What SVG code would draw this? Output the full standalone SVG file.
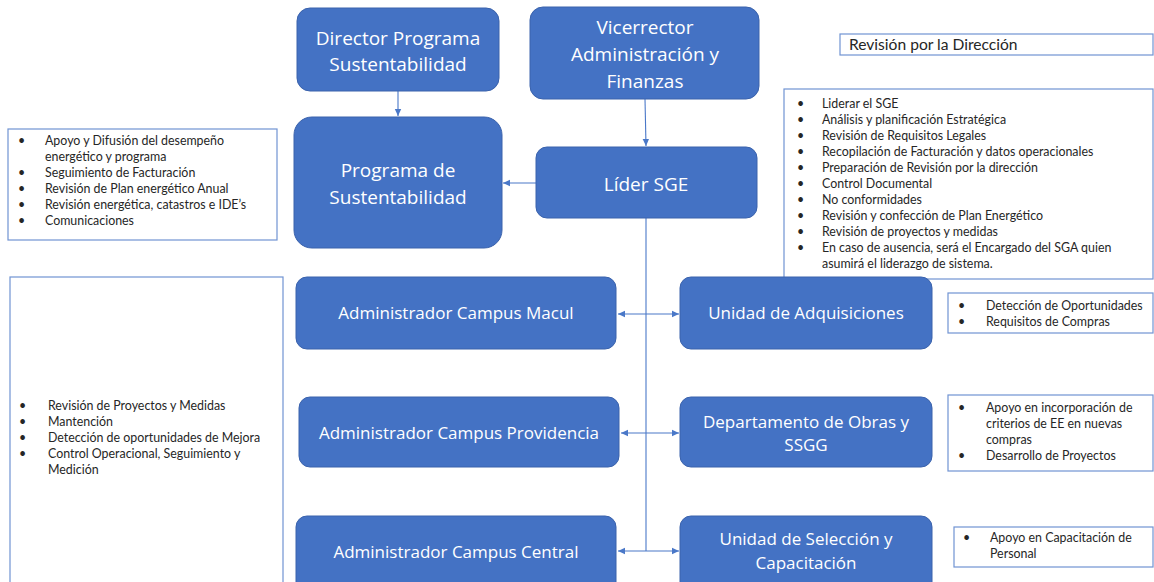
<svg xmlns="http://www.w3.org/2000/svg" width="1154" height="582" viewBox="0 0 1154 582">
<style>
.node{fill:#4472C4;stroke:#3A62AC;stroke-width:1}
.t{fill:#fff;font-family:"Open Sans","Noto Sans",sans-serif;text-anchor:middle}
.big{font-size:19px}
.mid{font-size:17px}
.box{fill:#fff;stroke:#7093D3;stroke-width:1.2}
.s{fill:#262626;font-family:Lato,"Liberation Sans",sans-serif;font-size:12.4px}
.conn{stroke:#4A78C8;stroke-width:1.1;fill:none}
</style>
<defs>
<marker id="ah" markerWidth="8" markerHeight="8" refX="7" refY="4" orient="auto-start-reverse" markerUnits="userSpaceOnUse">
<path d="M0,0.8 L7,4 L0,7.2 Z" fill="#4A78C8"/>
</marker>
</defs>
<rect width="1154" height="582" fill="#fff"/>

<g id="connectors">
<line class="conn" x1="398" y1="91" x2="398" y2="116" marker-end="url(#ah)"/>
<line class="conn" x1="645" y1="99" x2="646" y2="146" marker-end="url(#ah)"/>
<line class="conn" x1="536" y1="183" x2="503" y2="183" marker-end="url(#ah)"/>
<line class="conn" x1="646" y1="218" x2="646" y2="551"/>
<line class="conn" x1="618" y1="314" x2="679" y2="314" marker-start="url(#ah)" marker-end="url(#ah)"/>
<line class="conn" x1="621" y1="433" x2="679" y2="433" marker-start="url(#ah)" marker-end="url(#ah)"/>
<line class="conn" x1="618" y1="551" x2="679" y2="551" marker-start="url(#ah)" marker-end="url(#ah)"/>
</g>

<g id="director">
<rect class="node" x="297" y="8" width="202" height="83" rx="13"/>
<text class="t big" x="398" y="45">Director Programa</text>
<text class="t big" x="398" y="71">Sustentabilidad</text>
</g>

<g id="programa">
<rect class="node" x="294" y="117" width="208" height="131" rx="18"/>
<text class="t big" x="398" y="177">Programa de</text>
<text class="t big" x="398" y="204">Sustentabilidad</text>
</g>

<g id="vicerrector">
<rect class="node" x="530" y="7" width="229" height="92" rx="13"/>
<text class="t big" x="645" y="34">Vicerrector</text>
<text class="t big" x="645" y="61">Administración y</text>
<text class="t big" x="645" y="88">Finanzas</text>
</g>

<g id="lider">
<rect class="node" x="536" y="147" width="221" height="71" rx="11"/>
<text class="t big" x="646" y="191">Líder SGE</text>
</g>

<g id="revision">
<rect class="box" x="840" y="34" width="313" height="21"/>
<text class="s" x="849" y="50" style="font-size:15.6px">Revisión por la Dirección</text>
</g>

<g id="lider-tareas">
<rect class="box" x="784" y="89" width="369" height="190"/>
<g class="s">
<text x="797" y="108">•</text><text x="822" y="108">Liderar el SGE</text>
<text x="797" y="124">•</text><text x="822" y="124">Análisis y planificación Estratégica</text>
<text x="797" y="140">•</text><text x="822" y="140">Revisión de Requisitos Legales</text>
<text x="797" y="156">•</text><text x="822" y="156">Recopilación de Facturación y datos operacionales</text>
<text x="797" y="172">•</text><text x="822" y="172">Preparación de Revisión por la dirección</text>
<text x="797" y="188">•</text><text x="822" y="188">Control Documental</text>
<text x="797" y="204">•</text><text x="822" y="204">No conformidades</text>
<text x="797" y="220">•</text><text x="822" y="220">Revisión y confección de Plan Energético</text>
<text x="797" y="236">•</text><text x="822" y="236">Revisión de proyectos  y medidas</text>
<text x="797" y="252">•</text><text x="822" y="252">En caso de ausencia, será el Encargado del SGA quien</text>
<text x="822" y="268">asumirá el liderazgo de sistema.</text>
</g>
</g>

<g id="programa-tareas">
<rect class="box" x="8" y="129" width="269" height="111"/>
<g class="s">
<text x="18" y="145">•</text><text x="45" y="145">Apoyo  y Difusión del desempeño</text>
<text x="45" y="161">energético y programa</text>
<text x="18" y="177">•</text><text x="45" y="177">Seguimiento  de Facturación</text>
<text x="18" y="193">•</text><text x="45" y="193">Revisión de Plan energético Anual</text>
<text x="18" y="209">•</text><text x="45" y="209">Revisión energética, catastros e IDE’s</text>
<text x="18" y="225">•</text><text x="45" y="225">Comunicaciones</text>
</g>
</g>

<g id="campus-tareas">
<rect class="box" x="10" y="277" width="273" height="320"/>
<g class="s">
<text x="19" y="410">•</text><text x="48" y="410">Revisión de Proyectos y Medidas</text>
<text x="19" y="426">•</text><text x="48" y="426">Mantención</text>
<text x="19" y="442">•</text><text x="48" y="442">Detección de oportunidades de Mejora</text>
<text x="19" y="458">•</text><text x="48" y="458">Control Operacional, Seguimiento y</text>
<text x="48" y="474">Medición</text>
</g>
</g>

<g id="macul">
<rect class="node" x="296" y="277" width="320" height="72" rx="11"/>
<text class="t mid" x="456" y="319">Administrador Campus Macul</text>
</g>

<g id="providencia">
<rect class="node" x="299" y="397" width="320" height="70" rx="11"/>
<text class="t mid" x="459" y="439">Administrador Campus Providencia</text>
</g>

<g id="central">
<rect class="node" x="296" y="516" width="320" height="80" rx="11"/>
<text class="t mid" x="456" y="558">Administrador Campus Central</text>
</g>

<g id="adquisiciones">
<rect class="node" x="680" y="277" width="252" height="72" rx="11"/>
<text class="t mid" x="806" y="319">Unidad de Adquisiciones</text>
</g>

<g id="obras">
<rect class="node" x="680" y="397" width="252" height="70" rx="11"/>
<text class="t mid" x="806" y="428">Departamento de Obras y</text>
<text class="t mid" x="806" y="451">SSGG</text>
</g>

<g id="seleccion">
<rect class="node" x="680" y="516" width="252" height="80" rx="11"/>
<text class="t mid" x="806" y="545">Unidad de Selección y</text>
<text class="t mid" x="806" y="569">Capacitación</text>
</g>

<g id="adquisiciones-tareas">
<rect class="box" x="948" y="293" width="205" height="40"/>
<g class="s">
<text x="958" y="310">•</text><text x="986" y="310">Detección de Oportunidades</text>
<text x="958" y="326">•</text><text x="986" y="326">Requisitos de Compras</text>
</g>
</g>

<g id="obras-tareas">
<rect class="box" x="948" y="395" width="205" height="76"/>
<g class="s">
<text x="958" y="412">•</text><text x="986" y="412">Apoyo  en incorporación de</text>
<text x="986" y="428">criterios de EE en nuevas</text>
<text x="986" y="444">compras</text>
<text x="958" y="460">•</text><text x="986" y="460">Desarrollo de Proyectos</text>
</g>
</g>

<g id="seleccion-tareas">
<rect class="box" x="954" y="527" width="199" height="40"/>
<g class="s">
<text x="963" y="542">•</text><text x="990" y="542">Apoyo  en Capacitación de</text>
<text x="990" y="558">Personal</text>
</g>
</g>
</svg>
